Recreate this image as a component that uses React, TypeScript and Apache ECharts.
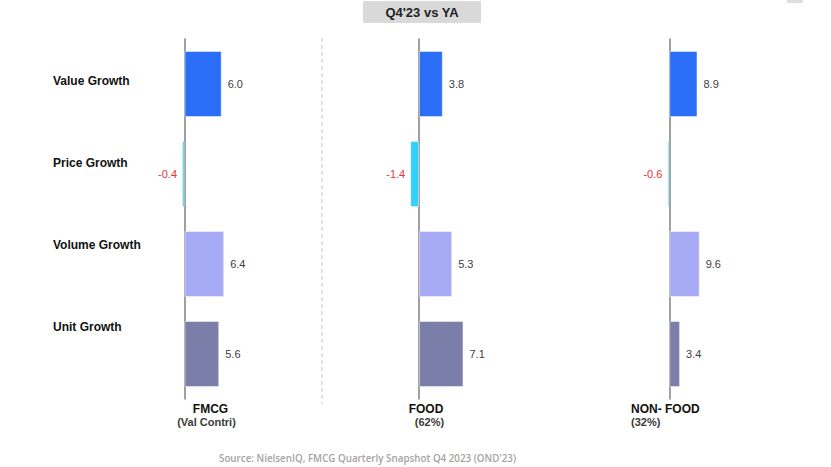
import React, { useEffect, useRef } from "react";
import * as echarts from "echarts";

const categories = ["Value Growth", "Price Growth", "Volume Growth", "Unit Growth"];
const fmcgValues = [6.0, -0.4, 6.4, 5.6];
const foodValues = [3.8, -1.4, 5.3, 7.1];
const nonFoodValues = [8.9, -0.6, 9.6, 3.4];
const segmentNames = ["FMCG", "FOOD", "NON- FOOD"];
const segmentSubs = ["(Val Contri)", "(62%)", "(32%)"];
const title = "Q4'23 vs YA";
const source = "Source: NielsenIQ, FMCG Quarterly Snapshot Q4 2023 (OND'23)";

const barColors = ["#2b6ef6", "#33d1f7", "#a7aaf4", "#7a7ea9"];
const FONT = "'Liberation Sans', Arial, sans-serif";

export default function App() {
  const ref = useRef<HTMLDivElement>(null);
  useEffect(() => {
    if (!ref.current) return;
    const chart = echarts.init(ref.current, null, { renderer: "svg" });

    const grids = [
      { left: 159.7, width: 99.2, min: -4, max: 12 },
      { left: 393.9, width: 100.3, min: -4, max: 12 },
      { left: 656.6, width: 101.4, min: -4, max: 28 },
    ];
    const seriesData = [fmcgValues, foodValues, nonFoodValues];

    const grid: any[] = grids.map((g) => ({
      left: g.left,
      width: g.width,
      top: 39,
      height: 360,
      containLabel: false,
      outerBoundsMode: "none",
    }));
    grid.push({ left: 53, width: 100, top: 40, height: 328, containLabel: false, outerBoundsMode: "none" });

    const xAxis: any[] = grids.map((g, i) => ({
      type: "value",
      gridIndex: i,
      min: g.min,
      max: g.max,
      show: false,
    }));
    xAxis.push({ type: "value", gridIndex: 3, show: false, min: 0, max: 1 });

    const yAxis: any[] = grids.map((g, i) => ({
      type: "category",
      gridIndex: i,
      inverse: true,
      data: categories,
      axisLabel: { show: false },
      axisTick: { show: false },
      splitLine: { show: false },
      axisLine: { show: true, onZero: true, lineStyle: { color: "#808080", width: 1.5 } },
    }));
    yAxis.push({
      type: "category",
      gridIndex: 3,
      inverse: true,
      data: categories,
      axisLine: { show: false },
      axisTick: { show: false },
      splitLine: { show: false },
      axisLabel: {
        inside: true,
        margin: 0,
        align: "left",
        fontFamily: FONT,
        fontWeight: "bold",
        fontSize: 12,
        color: "#111",
      },
    });

    const series: any[] = seriesData.map((vals, i) => ({
      type: "bar",
      xAxisIndex: i,
      yAxisIndex: i,
      barWidth: 66,
      data: vals.map((v, k) => ({
        value: v,
        itemStyle: { color: barColors[k], borderColor: "rgba(255,255,255,0.45)", borderWidth: 1 },
        label:
          v < 0
            ? { position: "left", color: "#e2363a", distance: 5 }
            : { position: "right", color: "#404040", distance: 6 },
      })),
      label: {
        show: true,
        fontFamily: FONT,
        fontSize: 11,
        formatter: (p: any) => Number(p.value).toFixed(1),
      },
    }));

    const labelPos = [
      { x: 210.5, sx: 206.5, align: "center" },
      { x: 426, sx: 429.5, align: "center" },
      { x: 631, sx: 631, align: "left" },
    ];
    const graphic: any[] = [
      {
        type: "rect",
        shape: { x: 363, y: 1, width: 118, height: 22 },
        style: { fill: "#d9d9d9" },
      },
      {
        type: "text",
        x: 422,
        y: 12.5,
        style: {
          text: title,
          fontFamily: FONT,
          fontWeight: "bold",
          fontSize: 13,
          fill: "#222",
          align: "center",
          verticalAlign: "middle",
        },
      },
      {
        type: "rect",
        shape: { x: 787, y: 0, width: 16, height: 3 },
        style: { fill: "#dedede" },
      },
      {
        type: "line",
        shape: { x1: 322, y1: 38, x2: 322, y2: 404 },
        style: { stroke: "#c4c4c4", lineWidth: 1, lineDash: [4, 3] },
      },
      {
        type: "text",
        x: 219,
        y: 458,
        style: {
          text: source,
          fontFamily: "'Open Sans', sans-serif",
          fontWeight: 600,
          fontSize: 9.8,
          fill: "#a3a3a3",
          align: "left",
          verticalAlign: "middle",
        },
      },
    ];
    segmentNames.forEach((name, i) => {
      graphic.push({
        type: "text",
        x: labelPos[i].x,
        y: 408.5,
        style: {
          text: name,
          fontFamily: FONT,
          fontWeight: "bold",
          fontSize: 12,
          fill: "#111",
          align: labelPos[i].align,
          verticalAlign: "middle",
        },
      });
      graphic.push({
        type: "text",
        x: labelPos[i].sx,
        y: 421.5,
        style: {
          text: segmentSubs[i],
          fontFamily: FONT,
          fontWeight: "bold",
          fontSize: 11,
          fill: "#3a3a3a",
          align: labelPos[i].align,
          verticalAlign: "middle",
        },
      });
    });

    chart.setOption({
      animation: false,
      backgroundColor: "#ffffff",
      grid,
      xAxis,
      yAxis,
      series,
      graphic,
    });
    return () => chart.dispose();
  }, []);

  return (
    <div
      ref={ref}
      style={{ position: "absolute", left: 0, top: 0, width: 831, height: 467 }}
    />
  );
}
